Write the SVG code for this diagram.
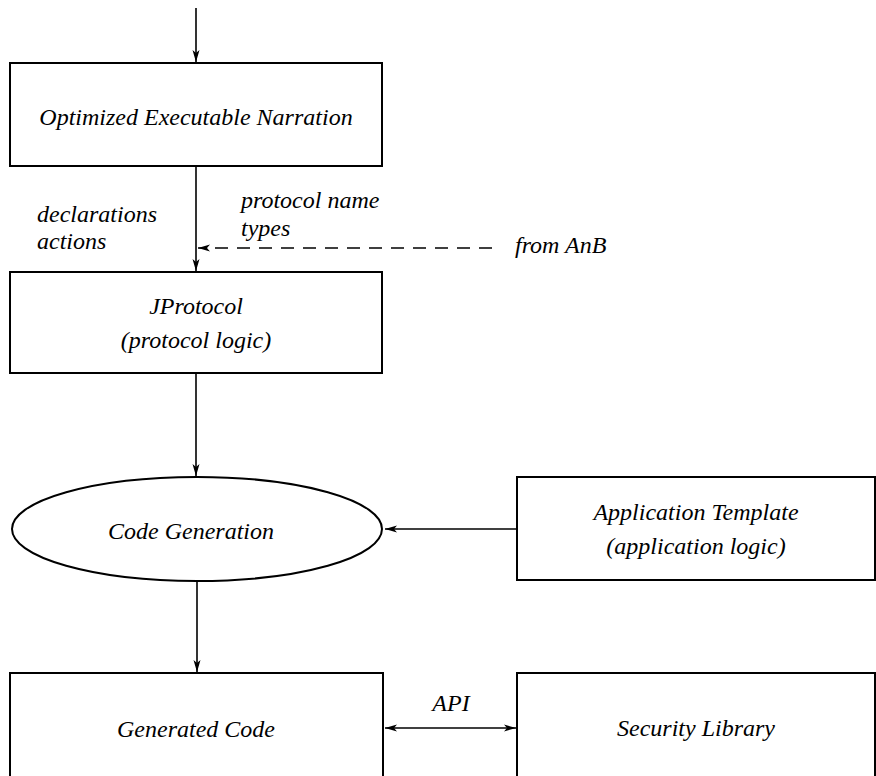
<svg xmlns="http://www.w3.org/2000/svg" width="876" height="776" viewBox="0 0 876 776">
  <style>
    .box { fill: #fff; stroke: #000; stroke-width: 2; }
    .edge { fill: none; stroke: #000; stroke-width: 1.6; }
    .dash { stroke-dasharray: 13 9; }
    .lbl { font-family: 'Liberation Serif', 'Times New Roman', serif; font-style: italic; font-size: 24px; fill: #000; }
    .c { text-anchor: middle; }
  </style>
  <defs>
    <marker id="arrow" viewBox="0 0 12 8" refX="12" refY="4" markerWidth="12" markerHeight="8" markerUnits="userSpaceOnUse" orient="auto-start-reverse">
      <path d="M0,0.5 L12,4 L0,7.5 L3,4 Z" fill="#000"/>
    </marker>
  </defs>

  <g id="connectors">
    <line class="edge" x1="196" y1="8" x2="196" y2="62" marker-end="url(#arrow)"/>
    <line class="edge" x1="196" y1="166" x2="196" y2="271" marker-end="url(#arrow)"/>
    <line class="edge dash" x1="492" y1="248" x2="198" y2="248" marker-end="url(#arrow)"/>
    <line class="edge" x1="196" y1="373" x2="196" y2="476" marker-end="url(#arrow)"/>
    <line class="edge" x1="517" y1="529" x2="385" y2="529" marker-end="url(#arrow)"/>
    <line class="edge" x1="197" y1="582" x2="197" y2="672" marker-end="url(#arrow)"/>
    <line class="edge" x1="385" y1="728" x2="516" y2="728" marker-start="url(#arrow)" marker-end="url(#arrow)"/>
    <text class="lbl" x="37" y="222">declarations</text>
    <text class="lbl" x="37" y="249">actions</text>
    <text class="lbl" x="241" y="208">protocol name</text>
    <text class="lbl" x="241" y="236">types</text>
    <text class="lbl" x="515" y="253">from AnB</text>
    <text class="lbl c" x="451" y="711">API</text>
  </g>

  <g id="narration">
    <rect class="box" x="10" y="63" width="372" height="103"/>
    <text class="lbl c" x="196" y="125">Optimized Executable Narration</text>
  </g>

  <g id="jprotocol">
    <rect class="box" x="10" y="272" width="372" height="101"/>
    <text class="lbl c" x="196" y="314">JProtocol</text>
    <text class="lbl c" x="196" y="348">(protocol logic)</text>
  </g>

  <g id="codegen">
    <ellipse class="box" cx="197" cy="529" rx="185" ry="52"/>
    <text class="lbl c" x="191" y="539">Code Generation</text>
  </g>

  <g id="apptemplate">
    <rect class="box" x="517" y="477" width="358" height="103"/>
    <text class="lbl c" x="696" y="520">Application Template</text>
    <text class="lbl c" x="696" y="554">(application logic)</text>
  </g>

  <g id="generated">
    <rect class="box" x="10" y="673" width="373" height="110"/>
    <text class="lbl c" x="196" y="737">Generated Code</text>
  </g>

  <g id="seclib">
    <rect class="box" x="517" y="673" width="358" height="110"/>
    <text class="lbl c" x="696" y="736">Security Library</text>
  </g>
</svg>
